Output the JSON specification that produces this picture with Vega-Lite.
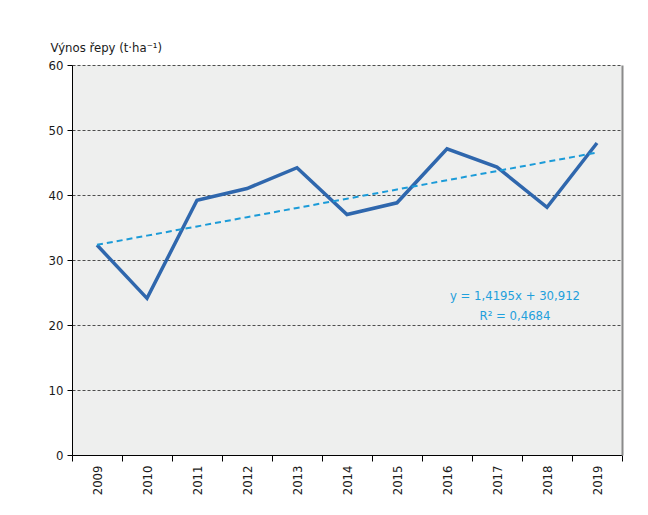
{
  "$schema": "https://vega.github.io/schema/vega-lite/v6.json",
  "width": 550,
  "height": 390,
  "autosize": {"type": "none"},
  "padding": {"left": 72, "top": 65, "right": 26, "bottom": 60},
  "background": "white",
  "config": {
    "view": {"stroke": null, "fill": "#eeefee"},
    "font": "DejaVu Sans Condensed, sans-serif",
    "axis": {"labelFont": "DejaVu Sans Condensed, sans-serif", "titleFont": "DejaVu Sans Condensed, sans-serif"}
  },
  "data": {
    "values": [
      {"year": "2009", "yield": 32.3, "trend": 32.33},
      {"year": "2010", "yield": 24.1, "trend": 33.75},
      {"year": "2011", "yield": 39.2, "trend": 35.17},
      {"year": "2012", "yield": 41.0, "trend": 36.59},
      {"year": "2013", "yield": 44.2, "trend": 38.01},
      {"year": "2014", "yield": 37.0, "trend": 39.43},
      {"year": "2015", "yield": 38.8, "trend": 40.85},
      {"year": "2016", "yield": 47.1, "trend": 42.27},
      {"year": "2017", "yield": 44.3, "trend": 43.69},
      {"year": "2018", "yield": 38.1, "trend": 45.11},
      {"year": "2019", "yield": 48.0, "trend": 46.53}
    ]
  },
  "encoding": {
    "x": {
      "field": "year",
      "type": "ordinal",
      "scale": {"paddingInner": 0, "paddingOuter": 0},
      "axis": {
        "title": null,
        "tickBand": "extent",
        "tickSize": 6,
        "tickColor": "#000000",
        "domainColor": "#000000",
        "domainWidth": 1,
        "labelAngle": 270,
        "labelAlign": "right",
        "labelBaseline": "middle",
        "labelPadding": 4,
        "labelFontSize": 13,
        "labelColor": "#1a1a1a",
        "grid": false
      }
    }
  },
  "layer": [
    {
      "mark": {"type": "line", "color": "#2f67ad", "strokeWidth": 3.5, "strokeJoin": "miter"},
      "encoding": {
        "y": {
          "field": "yield",
          "type": "quantitative",
          "scale": {"domain": [0, 60], "nice": false},
          "axis": {
            "orient": "left",
            "values": [0, 10, 20, 30, 40, 50, 60],
            "title": "Výnos řepy (t·ha⁻¹)",
            "titleAngle": 0,
            "titleAlign": "left",
            "titleBaseline": "alphabetic",
            "titleX": -22,
            "titleY": -14,
            "titleFontSize": 13,
            "titleFontWeight": "normal",
            "titleColor": "#1a1a1a",
            "grid": true,
            "gridColor": "#4d4d4d",
            "gridDash": [3, 2],
            "gridWidth": 1,
            "domainColor": "#000000",
            "tickColor": "#000000",
            "tickSize": 5,
            "labelPadding": 4,
            "labelFontSize": 13,
            "labelColor": "#1a1a1a"
          }
        }
      }
    },
    {
      "mark": {"type": "line", "color": "#1b9bd8", "strokeWidth": 2, "strokeDash": [6, 4]},
      "encoding": {
        "y": {
          "field": "trend",
          "type": "quantitative",
          "axis": {
            "orient": "right",
            "title": null,
            "labels": false,
            "ticks": false,
            "grid": false,
            "domainColor": "#8a8a8a",
            "domainWidth": 2
          }
        }
      }
    },
    {
      "data": {"values": [{"note": "trend"}]},
      "mark": {
        "type": "text",
        "text": "y = 1,4195x + 30,912\nR² = 0,4684",
        "lineBreak": "\n",
        "lineHeight": 20,
        "align": "center",
        "baseline": "middle",
        "dx": 18,
        "fontSize": 13,
        "fontWeight": "normal",
        "color": "#1fa0dc"
      },
      "encoding": {
        "x": {"datum": "2017"},
        "y": {"datum": 24.5, "axis": null}
      }
    }
  ],
  "resolve": {"axis": {"y": "independent"}}
}
